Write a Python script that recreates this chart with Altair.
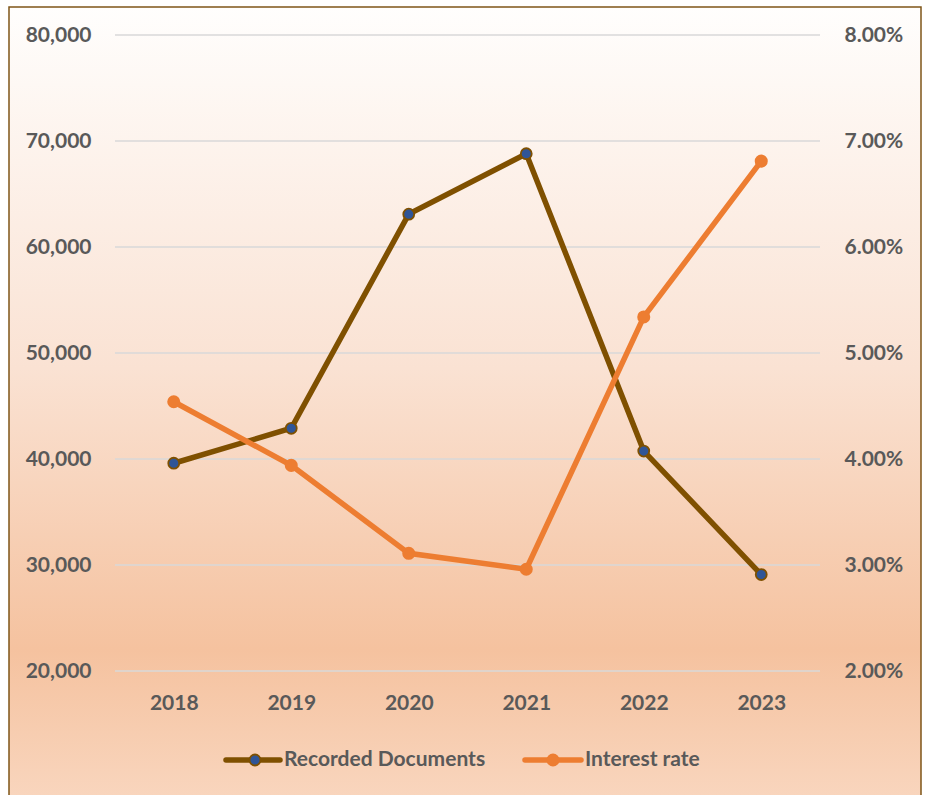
import altair as alt
import pandas as pd

years = ["2018", "2019", "2020", "2021", "2022", "2023"]
recorded_docs = [39600, 42900, 63100, 68800, 40750, 29100]
interest_rate = [0.0454, 0.0394, 0.0311, 0.0296, 0.0534, 0.0681]
left_ticks = [20000, 30000, 40000, 50000, 60000, 70000, 80000]
right_ticks = [0.02, 0.03, 0.04, 0.05, 0.06, 0.07, 0.08]
series_names = ["Recorded Documents", "Interest rate"]

BROWN = "#7F5000"
ORANGE = "#ED7D31"
BLUE = "#2F5597"
TEXT = "#595959"
FONT = "Lato"
FS = 21

df = pd.DataFrame({"year": years, "docs": recorded_docs, "rate": interest_rate})
grid_df = pd.DataFrame({"tick": left_ticks})

W, H = 705, 636

one = alt.Data(values=[{}])

bg = alt.Chart(one).mark_rect(
    fill=alt.Gradient(
        gradient="linear", x1=0, x2=0, y1=0, y2=1,
        stops=[
            alt.GradientStop(offset=0.0, color="#FFFEFD"),
            alt.GradientStop(offset=0.45, color="#FAE2D3"),
            alt.GradientStop(offset=0.80, color="#F5C29F"),
            alt.GradientStop(offset=1.0, color="#F9D7C0"),
        ],
    ),
    stroke="#7F5519", strokeWidth=1.5,
).encode(
    x=alt.value(-106), x2=alt.value(806), y=alt.value(-28), y2=alt.value(775)
)

x_enc = alt.X(
    "year:O", sort=years,
    scale=alt.Scale(type="point", padding=0.5),
    axis=alt.Axis(title=None, labelAngle=0, domain=False, ticks=False,
                  labelPadding=21, labelFont=FONT, labelFontSize=FS,
                  labelFontWeight="bold", labelColor=TEXT, zindex=1),
)

grid = alt.Chart(grid_df).mark_rule(color="#D9D9D9", strokeWidth=1.5).encode(
    y=alt.Y("tick:Q", scale=alt.Scale(domain=[20000, 80000], nice=False, zero=False))
)

docs_line = alt.Chart(df).mark_line(
    color=BROWN, strokeWidth=5.5,
    point=alt.OverlayMarkDef(filled=True, fill=BLUE, stroke=BROWN, strokeWidth=1.8, size=120, opacity=1),
).encode(
    x=x_enc,
    y=alt.Y("docs:Q",
            scale=alt.Scale(domain=[20000, 80000], nice=False, zero=False),
            axis=alt.Axis(title=None, values=left_ticks, format=",d", grid=False,
                          domain=False, ticks=False, labelPadding=24,
                          labelFont=FONT, labelFontSize=FS, labelFontWeight="bold",
                          labelColor=TEXT, orient="left", zindex=1)),
)

docs = alt.layer(grid, docs_line)

rate = alt.Chart(df).mark_line(
    color=ORANGE, strokeWidth=5.5,
    point=alt.OverlayMarkDef(filled=True, fill=ORANGE, size=170, opacity=1),
).encode(
    x=x_enc,
    y=alt.Y("rate:Q",
            scale=alt.Scale(domain=[0.02, 0.08], nice=False, zero=False),
            axis=alt.Axis(title=None, values=right_ticks, format=".2%", grid=False,
                          domain=False, ticks=False, labelPadding=24,
                          labelFont=FONT, labelFontSize=FS, labelFontWeight="bold",
                          labelColor=TEXT, orient="right", zindex=1)),
)

LEG_Y = 725
leg1_line = alt.Chart(one).mark_rule(color=BROWN, strokeWidth=5.5, strokeCap="round").encode(
    x=alt.value(111), x2=alt.value(165), y=alt.value(LEG_Y))
leg1_pt = alt.Chart(one).mark_point(filled=True, fill=BLUE, stroke=BROWN, strokeWidth=1.8, size=120, opacity=1).encode(
    x=alt.value(140), y=alt.value(LEG_Y))
leg1_txt = alt.Chart(one).mark_text(align="left", baseline="middle", font=FONT, fontSize=FS,
                                    fontWeight="bold", color=TEXT).encode(
    x=alt.value(169), y=alt.value(LEG_Y), text=alt.value(series_names[0]))
leg2_line = alt.Chart(one).mark_rule(color=ORANGE, strokeWidth=5.5, strokeCap="round").encode(
    x=alt.value(410), x2=alt.value(466), y=alt.value(LEG_Y))
leg2_pt = alt.Chart(one).mark_point(filled=True, fill=ORANGE, size=170, opacity=1).encode(
    x=alt.value(438), y=alt.value(LEG_Y))
leg2_txt = alt.Chart(one).mark_text(align="left", baseline="middle", font=FONT, fontSize=FS,
                                    fontWeight="bold", color=TEXT).encode(
    x=alt.value(470), y=alt.value(LEG_Y), text=alt.value(series_names[1]))

chart = alt.layer(
    bg, docs, rate, leg1_line, leg1_pt, leg1_txt, leg2_line, leg2_pt, leg2_txt
).resolve_scale(y="independent").properties(
    width=W, height=H,
    padding={"left": 115, "top": 35, "right": 107, "bottom": 124},
    autosize=alt.AutoSizeParams(type="none"),
    background="white",
).configure_view(stroke=None)

chart.save("out.html", embed_options={"renderer": "svg", "actions": False})
